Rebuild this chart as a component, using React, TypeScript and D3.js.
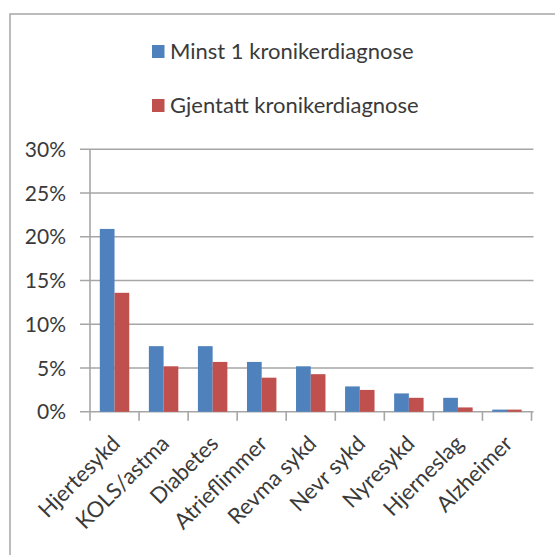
import React from "react";
import * as d3 from "d3";

const categories = ["Hjertesykd", "KOLS/astma", "Diabetes", "Atrieflimmer", "Revma sykd", "Nevr sykd", "Nyresykd", "Hjerneslag", "Alzheimer"];
const seriesNames = ["Minst 1 kronikerdiagnose", "Gjentatt kronikerdiagnose"];
const minst1 = [0.209, 0.075, 0.075, 0.057, 0.052, 0.029, 0.021, 0.016, 0.0025];
const gjentatt = [0.136, 0.052, 0.057, 0.039, 0.043, 0.025, 0.016, 0.005, 0.0025];
const yTicks = [0, 0.05, 0.1, 0.15, 0.2, 0.25, 0.3];
const colors = ["#4F81BD", "#C0504D"];

const FONT = "Lato, 'Open Sans', sans-serif";
const TEXT = "#3a3a3a";
const GRID = "#a6a6a6";

export default function App() {
  const W = 555, H = 555;
  const left = 90, right = 531.5, top = 149.3, bottom = 411.8;
  const x = d3.scaleBand<string>().domain(categories).range([left, right]).paddingInner(0.4).paddingOuter(0.2);
  const xOuter = d3.scaleBand<string>().domain(categories).range([left, right]);
  const x1 = d3.scaleBand<number>().domain([0, 1]).range([0, x.bandwidth()]);
  const y = d3.scaleLinear().domain([0, 0.3]).range([bottom, top]);
  const series = [minst1, gjentatt];
  const fmt = d3.format(".0%");

  return (
    <svg width={W} height={H} style={{ position: "absolute", left: 0, top: 0, background: "#fff" }} fontFamily={FONT}>
      <rect x={10} y={14} width={560} height={560} fill="#fff" stroke={GRID} strokeWidth={1.5} />
      {yTicks.map((t) => (
        <g key={t}>
          <line x1={left - 10} x2={right + 2} y1={y(t)} y2={y(t)} stroke={GRID} strokeWidth={1.6} />
          <text x={66} y={y(t)} dy="0.36em" textAnchor="end" fontSize={21} fill={TEXT}>{fmt(t)}</text>
        </g>
      ))}
      <line x1={left} x2={left} y1={top} y2={bottom} stroke={GRID} strokeWidth={1.6} />
      {series.map((s, si) =>
        s.map((v, i) => (
          <rect key={si + "-" + i} x={(x(categories[i]) as number) + (x1(si) as number)} y={y(v)} width={x1.bandwidth()} height={bottom - y(v)} fill={colors[si]} />
        ))
      )}
      {[...categories.map((c) => xOuter(c) as number), right].map((tx, i) => (
        <line key={i} x1={tx} x2={tx} y1={bottom} y2={bottom + 9} stroke={GRID} strokeWidth={1.6} />
      ))}
      {categories.map((c) => {
        const cx = (xOuter(c) as number) + xOuter.bandwidth() / 2;
        return (
          <text key={c} transform={`translate(${cx + 1},${439}) rotate(-45)`} textAnchor="end" dominantBaseline="central" fontSize={22} fill={TEXT}>{c}</text>
        );
      })}
      {seriesNames.map((n, i) => (
        <g key={n} transform={`translate(152,${51.5 + i * 54})`}>
          <rect x={0} y={-6.5} width={12.5} height={13} fill={colors[i]} />
          <text x={18} y={0} dy="0.36em" fontSize={22} fill={TEXT}>{n}</text>
        </g>
      ))}
    </svg>
  );
}
